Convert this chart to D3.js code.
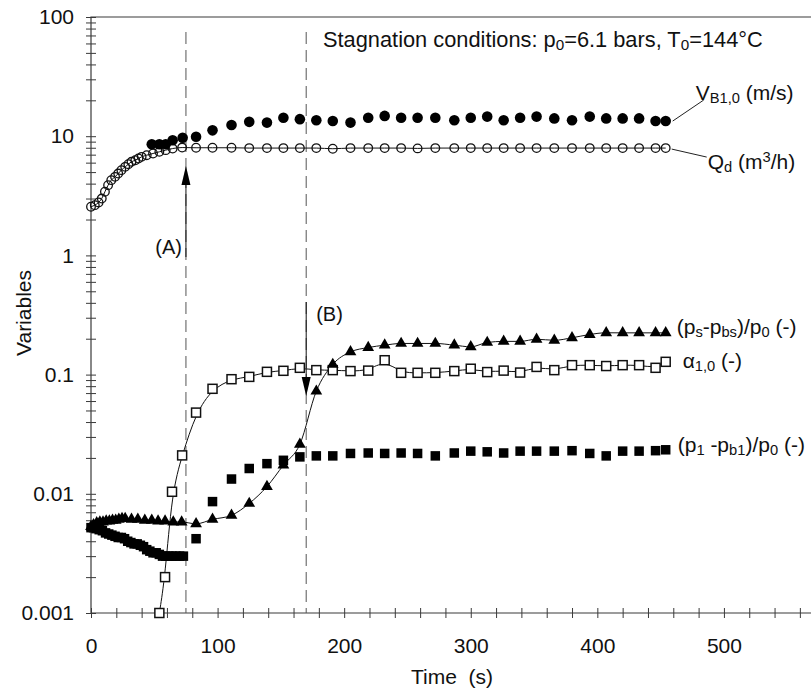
<!DOCTYPE html>
<html>
<head>
<meta charset="utf-8">
<script src="https://cdn.jsdelivr.net/npm/d3@7"></script>
<style>
  body { margin: 0; background: #fff; }
  svg { display: block; }
  text { font-family: "Liberation Sans", Arial, sans-serif; fill: #111; }
</style>
</head>
<body>
<div id="chart"></div>
<script>
// ---- data (time in s) ----
const tLate = [83, 96, 111, 125, 139, 152, 165, 178, 191, 205, 219, 232, 245, 258, 272,
  287, 300, 313, 326, 339, 352, 366, 380, 394, 407, 420, 433, 446, 454];

// Qd (m3/h), open circles
const tQdEarly = [0, 3, 6, 8.5, 11, 13.5, 16, 19, 21.5, 24, 27, 29.5, 32, 35, 37.5, 40,
  44, 49, 54, 59, 64.5, 72];
const qdEarly = [2.56, 2.64, 2.78, 3.0, 3.42, 3.88, 4.28, 4.56, 4.86, 5.19, 5.53, 5.82,
  6.1, 6.29, 6.5, 6.71, 6.93, 7.16, 7.4, 7.64, 7.88, 8.03];
const qdLate = [8.0, 8.0, 8.0, 7.95, 7.95, 7.95, 7.95, 7.95, 7.85, 7.95, 7.95, 7.95, 7.95,
  7.9, 7.95, 7.95, 7.95, 7.95, 7.95, 7.95, 7.95, 7.95, 7.95, 7.95, 7.95, 7.95, 7.95, 7.95, 7.95];

// VB1,0 (m/s), filled circles
const tVbEarly = [48, 54, 59, 64.5, 72.4];
const vbEarly = [8.57, 8.57, 8.57, 9.26, 9.7];
const vbLate = [9.9, 11.2, 12.4, 13.2, 13.0, 14.3, 13.9, 13.6, 13.4, 13.0, 14.3, 14.8, 14.3,
  14.3, 14.3, 13.6, 14.3, 14.6, 13.6, 14.3, 14.6, 14.1, 13.6, 14.6, 14.1, 14.1, 14.1, 13.4, 13.4];

// alpha1,0, open squares
const tAlphaEarly = [54, 58.5, 64, 72];
const alphaEarly = [0.001, 0.002, 0.0104, 0.021];
const alphaLate = [0.048, 0.076, 0.0915, 0.0957, 0.1055, 0.1076, 0.114, 0.109, 0.109, 0.107,
  0.108, 0.132, 0.1035, 0.1035, 0.1035, 0.107, 0.112, 0.105, 0.108, 0.104, 0.116, 0.109,
  0.12, 0.12, 0.118, 0.12, 0.12, 0.114, 0.128];

// (ps-pbs)/p0, filled triangles
const tPsEarly = [0, 2, 4.5, 7, 9.5, 12, 14.5, 17, 19.5, 22, 24.5, 27, 32, 37, 42.5, 48,
  53, 58.5, 65, 71.6];
const psEarly = [0.0053, 0.0055, 0.0057, 0.0058, 0.0058, 0.0059, 0.0059, 0.006, 0.006,
  0.0061, 0.0062, 0.0062, 0.0061, 0.0061, 0.006, 0.006, 0.0059, 0.0059, 0.0058, 0.0058];
const psLate = [0.0056, 0.0061, 0.0066, 0.0083, 0.0115, 0.0174, 0.026, 0.0726, 0.1217,
  0.155, 0.1686, 0.1766, 0.1825, 0.1825, 0.1825, 0.1766, 0.171, 0.186, 0.19, 0.19, 0.198,
  0.194, 0.2036, 0.217, 0.2243, 0.224, 0.224, 0.224, 0.224];

// (p1-pb1)/p0, filled squares
const tP1Early = [0, 2, 4, 6.5, 9, 11.5, 14, 16.5, 19, 21.5, 24, 26.5, 29, 31.5, 34, 36.5,
  39, 41.5, 44, 46.5, 49, 51.5, 54, 56.5, 59, 61.5, 64, 67, 70, 73];
const p1Early = [0.0052, 0.0052, 0.0051, 0.005, 0.0049, 0.0047, 0.0046, 0.0045, 0.0044,
  0.0043, 0.0043, 0.0042, 0.004, 0.0039, 0.0038, 0.0038, 0.0037, 0.0036, 0.0034, 0.0033,
  0.0032, 0.0032, 0.0031, 0.003, 0.003, 0.003, 0.003, 0.003, 0.003, 0.003];
const p1Late = [0.0042, 0.0086, 0.0133, 0.0163, 0.0179, 0.0191, 0.0204, 0.0208, 0.0208,
  0.0218, 0.022, 0.0218, 0.022, 0.0218, 0.0208, 0.022, 0.0228, 0.0225, 0.022, 0.0228,
  0.0228, 0.0228, 0.023, 0.0218, 0.0208, 0.0228, 0.0228, 0.023, 0.0234];

// axes
const xTicks = d3.range(0, 561, 20);
const yDecadeLabels = ['0.001', '0.01', '0.1', '1', '10', '100'];
const eventTimes = [75, 170];

// ---- build ----
const width = 811, height = 691;
const pts = (ts, vs) => ts.map((t, i) => ({ t, v: vs[i] }));

const qd = pts(tQdEarly.concat(tLate), qdEarly.concat(qdLate));
const vb = pts(tVbEarly.concat(tLate), vbEarly.concat(vbLate));
const alpha = pts(tAlphaEarly.concat(tLate), alphaEarly.concat(alphaLate));
const ps = pts(tPsEarly.concat(tLate), psEarly.concat(psLate));
const p1 = pts(tP1Early.concat(tLate), p1Early.concat(p1Late));

const svg = d3.select('#chart').append('svg')
  .attr('width', width)
  .attr('height', height);

const x = d3.scaleLinear().domain([0, 568]).range([91, 810]);
const y = d3.scaleLog().domain([0.001, 100]).range([613, 17]);

const AX = '#3a3a3a';

// y ticks: 1..9 per decade
const yTicks = [];
for (let k = -3; k <= 1; k++) {
  for (let m = 1; m <= 9; m++) yTicks.push(+(m * Math.pow(10, k)).toPrecision(3));
}
yTicks.push(100);
const isDecade = d => Math.abs(Math.log10(d) - Math.round(Math.log10(d))) < 1e-9;

const yAxis = svg.append('g')
  .attr('transform', `translate(${x(0) + 5},0)`)
  .call(d3.axisLeft(y).tickValues(yTicks).tickSize(10).tickPadding(12)
    .tickFormat(d => isDecade(d) ? yDecadeLabels[Math.round(Math.log10(d)) + 3] : ''));
yAxis.select('.domain').remove();
yAxis.selectAll('line').attr('stroke', AX);
yAxis.selectAll('text').attr('font-size', 21).attr('fill', '#111')
  .attr('font-family', '"Liberation Sans", Arial, sans-serif');

const xAxis = svg.append('g')
  .attr('transform', `translate(0,${y(0.001) - 5})`)
  .call(d3.axisBottom(x).tickValues(xTicks).tickSize(10).tickPadding(20)
    .tickFormat(d => d % 100 === 0 ? d : ''));
xAxis.select('.domain').remove();
xAxis.selectAll('line').attr('stroke', AX);
xAxis.selectAll('text').attr('font-size', 21).attr('fill', '#111')
  .attr('font-family', '"Liberation Sans", Arial, sans-serif');

// frame: left axis, bottom axis, top line
svg.append('path')
  .attr('d', `M${width},${y(100)}H${x(0)}V${y(0.001)}H${width}`)
  .attr('fill', 'none')
  .attr('stroke', AX)
  .attr('stroke-width', 1.2);

// axis titles
svg.append('text')
  .attr('x', 452).attr('y', 684)
  .attr('text-anchor', 'middle')
  .attr('font-size', 21)
  .style('white-space', 'pre')
  .text('Time  (s)');

svg.append('text')
  .attr('transform', 'translate(31,313) rotate(-90)')
  .attr('text-anchor', 'middle')
  .attr('font-size', 21)
  .text('Variables');

// dashed event lines
svg.append('g').selectAll('line')
  .data(eventTimes)
  .join('line')
  .attr('x1', d => x(d)).attr('x2', d => x(d))
  .attr('y1', 32).attr('y2', y(0.001))
  .attr('stroke', '#555')
  .attr('stroke-width', 1)
  .attr('stroke-dasharray', '12,6');

// lines through data
const line = (curve) => d3.line().x(d => x(d.t)).y(d => y(d.v)).curve(curve);
const linesG = svg.append('g').attr('fill', 'none').attr('stroke', '#111').attr('stroke-width', 1);
linesG.append('path').attr('d', line(d3.curveMonotoneX)(qd));
linesG.append('path').attr('d', line(d3.curveBasis)(alpha));
linesG.append('path').attr('d', line(d3.curveMonotoneX)(ps));

// markers
svg.append('g').selectAll('circle')
  .data(qd).join('circle')
  .attr('cx', d => x(d.t)).attr('cy', d => y(d.v))
  .attr('r', 4.3)
  .attr('fill', 'none')
  .attr('stroke', '#111')
  .attr('stroke-width', 1.3);

svg.append('g').selectAll('circle')
  .data(vb).join('circle')
  .attr('cx', d => x(d.t)).attr('cy', d => y(d.v))
  .attr('r', 5.3)
  .attr('fill', '#000');

const sq = 9;
svg.append('g').selectAll('rect')
  .data(alpha).join('rect')
  .attr('x', d => x(d.t) - sq / 2).attr('y', d => y(d.v) - sq / 2)
  .attr('width', sq).attr('height', sq)
  .attr('fill', '#fff')
  .attr('stroke', '#111')
  .attr('stroke-width', 1.5);

const fsq = 9.5;
svg.append('g').selectAll('rect')
  .data(p1).join('rect')
  .attr('x', d => x(d.t) - fsq / 2).attr('y', d => y(d.v) - fsq / 2)
  .attr('width', fsq).attr('height', fsq)
  .attr('fill', '#000');

const tri = d3.symbol().type(d3.symbolTriangle).size(60);
svg.append('g').selectAll('path')
  .data(ps).join('path')
  .attr('transform', d => `translate(${x(d.t)},${y(d.v)})`)
  .attr('d', tri)
  .attr('fill', '#000');

// event arrows (A) up, (B) down
function arrow(xp, yFrom, yTip) {
  const dir = yTip < yFrom ? 1 : -1; // head base sits after the tip
  const base = yTip + dir * 19;
  svg.append('line')
    .attr('x1', xp).attr('x2', xp)
    .attr('y1', yFrom).attr('y2', base)
    .attr('stroke', '#111').attr('stroke-width', 1);
  svg.append('path')
    .attr('d', `M${xp},${yTip}L${xp - 4.5},${base}L${xp + 4.5},${base}Z`)
    .attr('fill', '#000');
}
arrow(x(eventTimes[0]), 257, 166);
arrow(x(eventTimes[1]), 302, 396);

svg.append('text')
  .attr('x', x(eventTimes[0]) - 4).attr('y', 254)
  .attr('text-anchor', 'end')
  .attr('font-size', 20)
  .text('(A)');
svg.append('text')
  .attr('x', x(eventTimes[1]) + 10).attr('y', 321)
  .attr('font-size', 20)
  .text('(B)');

// rich text helper: parts of [string, 'n' | 'sub' | 'sup']
function rich(xp, yp, parts, size) {
  const t = svg.append('text').attr('x', xp).attr('y', yp).attr('font-size', size)
    .style('white-space', 'pre');
  parts.forEach(([s, kind]) => {
    const sp = t.append('tspan').text(s);
    if (kind === 'sub') sp.attr('font-size', size * 0.7).attr('baseline-shift', '-22%');
    if (kind === 'sup') sp.attr('font-size', size * 0.7).attr('baseline-shift', '45%');
  });
  return t;
}

rich(323, 47, [['Stagnation conditions: p', 'n'], ['0', 'sub'], ['=6.1 bars, T', 'n'],
  ['0', 'sub'], ['=144°C', 'n']], 21.8);

// series labels, anchored to the last point of each series
const last = arr => arr[arr.length - 1];
const lastPx = s => [x(last(s).t), y(last(s).v)];

const [vx, vy] = lastPx(vb);
svg.append('line').attr('x1', vx + 7).attr('y1', vy).attr('x2', vx + 38).attr('y2', vy - 21)
  .attr('stroke', '#222').attr('stroke-width', 1);
rich(vx + 30, vy - 21, [['V', 'n'], ['B1,0', 'sub'], [' (m/s)', 'n']], 21);

const [qx, qy] = lastPx(qd);
svg.append('line').attr('x1', qx + 6).attr('y1', qy + 1).attr('x2', qx + 41).attr('y2', qy + 9)
  .attr('stroke', '#222').attr('stroke-width', 1);
rich(qx + 42, qy + 21, [['Q', 'n'], ['d', 'sub'], [' (m', 'n'], ['3', 'sup'], ['/h)', 'n']], 21);

const [px_, py_] = lastPx(ps);
rich(px_ + 11, py_ + 1, [['(p', 'n'], ['s', 'sub'], ['-p', 'n'], ['bs', 'sub'], [')/p', 'n'],
  ['0', 'sub'], [' (-)', 'n']], 21);

const [ax, ay] = lastPx(alpha);
rich(ax + 17, ay + 6, [['α', 'n'], ['1,0', 'sub'], [' (-)', 'n']], 21);

const [sx, sy] = lastPx(p1);
rich(sx + 12, sy + 2, [['(p', 'n'], ['1', 'sub'], [' -p', 'n'], ['b1', 'sub'], [')/p', 'n'],
  ['0', 'sub'], [' (-)', 'n']], 21);
</script>
</body>
</html>
